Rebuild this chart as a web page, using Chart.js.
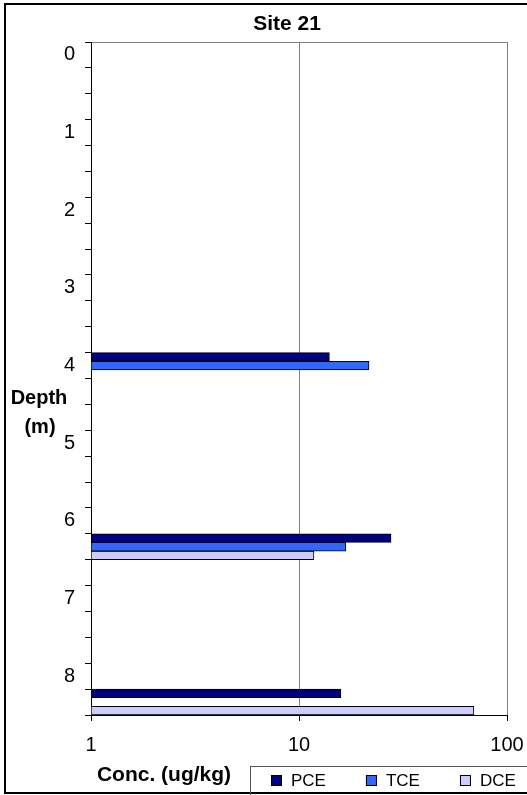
<!DOCTYPE html>
<html>
<head>
<meta charset="utf-8">
<script src="https://cdn.jsdelivr.net/npm/chart.js@4/dist/chart.umd.min.js"></script>
<style>
  html, body { margin: 0; padding: 0; background: #fff; }
  #wrap { width: 527px; height: 795px; }
</style>
</head>
<body>
<div id="wrap"><canvas id="site21" width="527" height="795"></canvas></div>
<script>
// depth categories (m), one every 1/3 m
var depths = ['0', '0.33', '0.67', '1', '1.33', '1.67', '2', '2.33', '2.67', '3', '3.33', '3.67',
              '4', '4.33', '4.67', '5', '5.33', '5.67', '6', '6.33', '6.67', '7', '7.33', '7.67',
              '8', '8.33'];

// conc. (ug/kg)
var pce = [null, null, null, null, null, null, null, null, null, null, null, null,
           14, null, null, null, null, null, null, 27.7, null, null, null, null, null, 15.9];
var tce = [null, null, null, null, null, null, null, null, null, null, null, null,
           21.7, null, null, null, null, null, null, 16.8, null, null, null, null, null, null];
var dce = [null, null, null, null, null, null, null, null, null, null, null, null,
           null, null, null, null, null, null, null, 11.8, null, null, null, null, null, 69.3];

var seriesNames = ['PCE', 'TCE', 'DCE'];
var seriesColors = ['#000080', '#3366ff', '#ccccff'];
var xTicks = [1, 10, 100];

var FONT = 'Arial, "Liberation Sans", sans-serif';

// frame, titles and boxed legend (excel style)
var excelFrame = {
  id: 'excelFrame',
  beforeDraw: function (chart) {
    var ctx = chart.ctx, a = chart.chartArea;
    ctx.save();
    ctx.fillStyle = '#fff';
    ctx.fillRect(0, 0, chart.width, chart.height);
    ctx.strokeStyle = '#808080';
    ctx.lineWidth = 1;
    ctx.strokeRect(a.left + 0.5, a.top + 0.5, a.right - a.left, a.bottom - a.top);
    ctx.restore();
  },
  afterDraw: function (chart) {
    var ctx = chart.ctx;
    ctx.save();

    // outer border
    ctx.strokeStyle = '#000';
    ctx.lineWidth = 2;
    ctx.strokeRect(5, 4, 540, 789);

    ctx.fillStyle = '#000';
    ctx.textAlign = 'center';
    ctx.textBaseline = 'middle';

    // chart title
    ctx.font = 'bold 21px ' + FONT;
    ctx.fillText('Site 21', 287, 24);

    // axis titles
    ctx.font = 'bold 20px ' + FONT;
    ctx.fillText('Depth', 39, 398);
    ctx.fillText('(m)', 40, 427);
    ctx.font = 'bold 21px ' + FONT;
    ctx.fillText('Conc. (ug/kg)', 164, 775);

    // legend box
    ctx.strokeStyle = '#555';
    ctx.lineWidth = 1;
    ctx.strokeRect(250.5, 766.5, 300, 40);
    ctx.font = '17px ' + FONT;
    ctx.textAlign = 'left';
    var x = 271;
    seriesNames.forEach(function (name, i) {
      ctx.fillStyle = seriesColors[i];
      ctx.fillRect(x, 775, 11, 11);
      ctx.strokeStyle = '#000';
      ctx.strokeRect(x + 0.5, 775.5, 10, 10);
      ctx.fillStyle = '#000';
      ctx.fillText(name, x + 20, 781);
      x += 20 + ctx.measureText(name).width + 40;
    });
    ctx.restore();
  }
};

new Chart('site21', {
  type: 'bar',
  data: {
    labels: depths,
    datasets: [
      { label: seriesNames[0], data: pce, backgroundColor: seriesColors[0] },
      { label: seriesNames[1], data: tce, backgroundColor: seriesColors[1] },
      { label: seriesNames[2], data: dce, backgroundColor: seriesColors[2] }
    ]
  },
  options: {
    indexAxis: 'y',
    responsive: false,
    animation: false,
    layout: { padding: { left: 0, right: 20, top: 42, bottom: 0 } },
    datasets: {
      bar: { borderColor: '#000', borderWidth: 1, borderSkipped: false, barPercentage: 1, categoryPercentage: 1 }
    },
    plugins: {
      legend: { display: false },
      tooltip: { enabled: false },
      title: { display: false }
    },
    scales: {
      x: {
        type: 'logarithmic',
        min: 1,
        max: 100,
        afterBuildTicks: function (scale) {
          scale.ticks = xTicks.map(function (v) { return { value: v }; });
        },
        afterFit: function (scale) {
          scale.height = 80;
          scale.paddingLeft = 0;
          scale.paddingRight = 0;
        },
        ticks: {
          color: '#000',
          padding: 12,
          maxRotation: 0,
          font: { family: FONT, size: 20 },
          callback: function (v) { return String(v); }
        },
        grid: { color: '#808080', tickColor: '#000', tickLength: 6 },
        border: { color: '#000', width: 1 }
      },
      y: {
        afterFit: function (scale) {
          scale.width = 91;
          scale.paddingTop = 0;
          scale.paddingBottom = 0;
        },
        ticks: {
          color: '#000',
          padding: 10,
          autoSkip: false,
          font: { family: FONT, size: 20 },
          callback: function (v, i) {
            return depths[i].indexOf('.') < 0 ? depths[i] : '';
          }
        },
        grid: { drawOnChartArea: false, tickColor: '#000', tickLength: 6, offset: true },
        border: { color: '#000', width: 1 }
      }
    }
  },
  plugins: [excelFrame]
});
</script>
</body>
</html>
